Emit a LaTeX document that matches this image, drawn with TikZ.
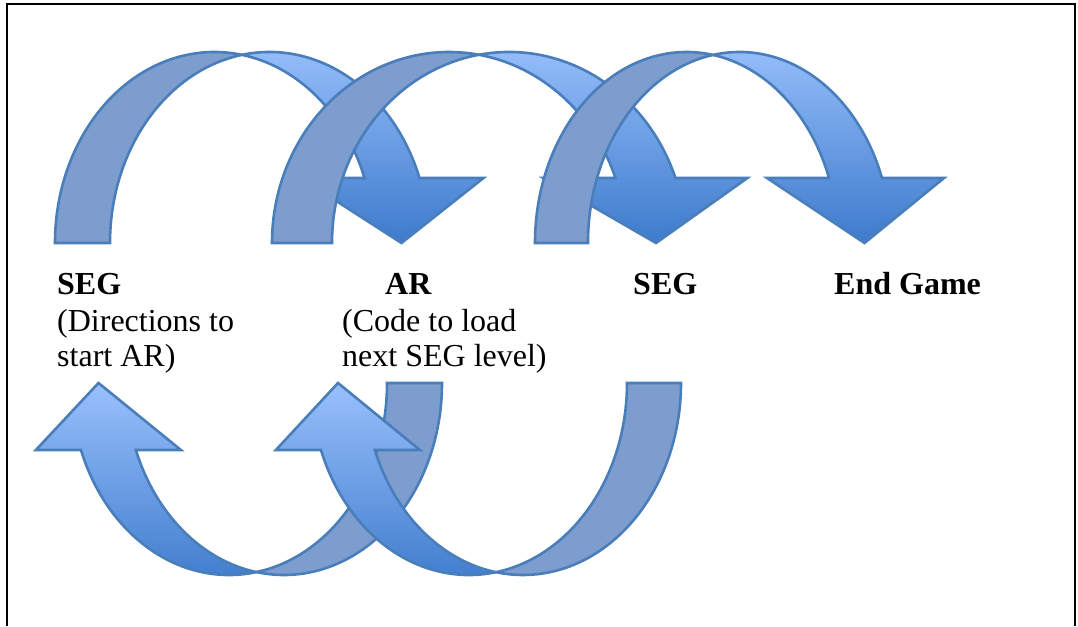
\documentclass[tikz,border=0pt]{standalone}
\usepackage{fontspec}
\setmainfont{Liberation Serif}
\definecolor{arrline}{RGB}{74,126,187}
\definecolor{arrback}{RGB}{124,157,206}
\definecolor{arrlight}{RGB}{153,192,252}
\definecolor{arrdark}{RGB}{61,123,204}

\begin{document}
\begin{tikzpicture}[x=1pt,y=1pt,
  bandback/.style={draw=arrline, line width=2.6pt, fill=arrback},
  bandfront/.style={draw=arrline, line width=2.6pt, top color=arrlight, bottom color=arrdark},
  stagelbl/.style={anchor=base west, inner sep=0pt, font=\fontsize{32}{36}\selectfont\bfseries},
  stagenote/.style={anchor=base west, inner sep=0pt, font=\fontsize{32}{36}\selectfont}]
\useasboundingbox (0,0) rectangle (1078,626);
% frame, open at the bottom
\draw[line width=2pt] (7,0)--(7,622)--(1075,622)--(1075,0);

% top row: curved down arrows
\draw[bandback] (55,383) arc[start angle=180, end angle=80.07, x radius=159.5, y radius=191]
  arc[start angle=99.93, end angle=180, x radius=159.5, y radius=191] -- cycle;
\draw[bandfront] (242,571.14) arc[start angle=99.93, end angle=19.90, x radius=159.5, y radius=191]
  -- (483.5,448) -- (401.5,383) -- (300.5,448) -- (364.5,448)
  arc[start angle=19.90, end angle=80.07, x radius=159.5, y radius=191] -- cycle;

\draw[bandback] (272,383) arc[start angle=180, end angle=80.24, x radius=177, y radius=191]
  arc[start angle=99.76, end angle=180, x radius=177, y radius=191] -- cycle;
\draw[bandfront] (479,571.24) arc[start angle=99.76, end angle=19.90, x radius=177, y radius=191]
  -- (747.4,448) -- (656,383) -- (543.4,448) -- (615.4,448)
  arc[start angle=19.90, end angle=80.24, x radius=177, y radius=191] -- cycle;

\draw[bandback] (535,383) arc[start angle=180, end angle=79.93, x radius=151.5, y radius=191]
  arc[start angle=100.07, end angle=180, x radius=151.5, y radius=191] -- cycle;
\draw[bandfront] (713,571.05) arc[start angle=100.07, end angle=19.90, x radius=151.5, y radius=191]
  -- (944,448) -- (864.5,383) -- (767,448) -- (829,448)
  arc[start angle=19.90, end angle=79.93, x radius=151.5, y radius=191] -- cycle;

% bottom row: curved up arrows
\draw[bandback] (442,243) arc[start angle=0, end angle=-100.02, x radius=158, y radius=192]
  arc[start angle=-79.98, end angle=0, x radius=158, y radius=192] -- cycle;
\draw[bandfront] (256.5,53.93) arc[start angle=-79.98, end angle=-159.58, x radius=158, y radius=192]
  -- (35.9,176) -- (98.5,243) -- (180.9,176) -- (135.9,176)
  arc[start angle=-159.58, end angle=-100.02, x radius=158, y radius=192] -- cycle;

\draw[bandback] (681,243) arc[start angle=0, end angle=-99.84, x radius=158, y radius=192]
  arc[start angle=-80.16, end angle=0, x radius=158, y radius=192] -- cycle;
\draw[bandfront] (496,53.82) arc[start angle=-80.16, end angle=-159.58, x radius=158, y radius=192]
  -- (275.9,176) -- (338,243) -- (419.9,176) -- (374.9,176)
  arc[start angle=-159.58, end angle=-99.84, x radius=158, y radius=192] -- cycle;

% labels
\node[stagelbl] (seg1) at (57,331) {SEG};
\node[stagenote] (seg1a) at (57,294) {(Directions to};
\node[stagenote] (seg1b) at (57,259) {start AR)};
\node[stagelbl] (ar) at (385,331) {AR};
\node[stagenote] (ara) at (342,294) {(Code to load};
\node[stagenote] (arb) at (342,259) {next SEG level)};
\node[stagelbl] (seg2) at (633,331) {SEG};
\node[stagelbl] (endgame) at (834,331) {End Game};
\end{tikzpicture}
\end{document}
